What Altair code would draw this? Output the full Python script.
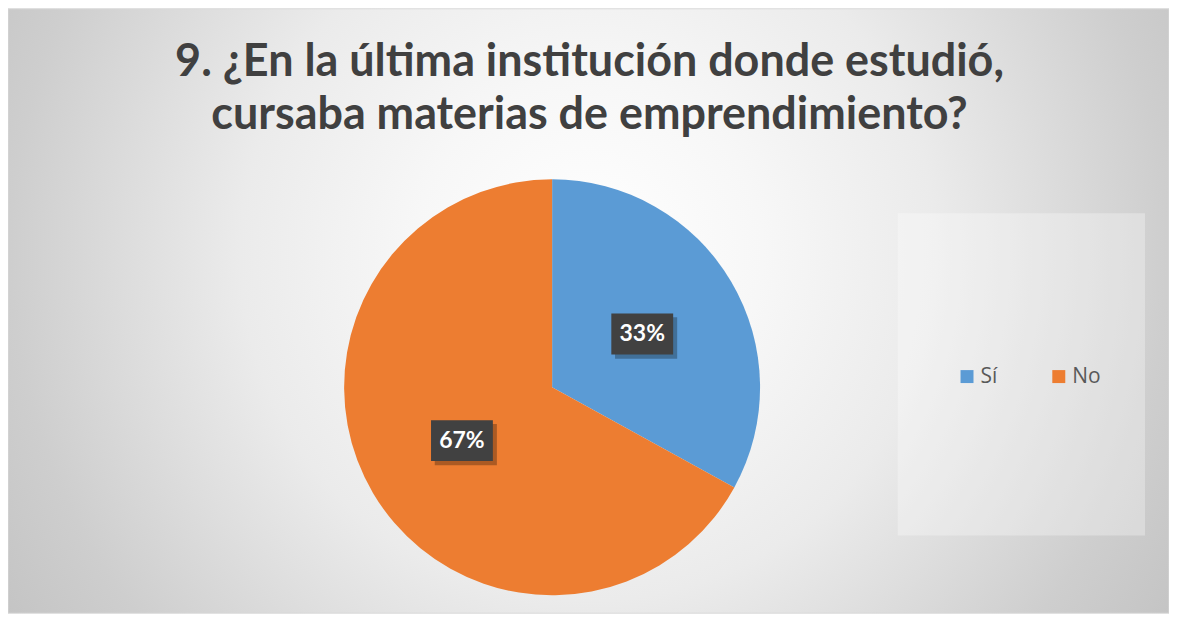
import altair as alt
import pandas as pd

# ---- data ----
categories = ["Sí", "No"]
values = [33, 67]
labels = ["33%", "67%"]
order_idx = [0, 1]
colors = ["#5B9BD5", "#ED7D31"]
title_lines = ["9. ¿En la última institución donde estudió,",
               "cursaba materias de emprendimiento?"]

df = pd.DataFrame({"cat": categories, "value": values, "label": labels, "idx": order_idx})

W, H = 1164, 606
CX, CY, R = 545.5, 379.5, 208.5
LR = 105

grad = alt.RadialGradient(
    gradient="radial",
    x1=0.5, y1=0.45, r1=0,
    x2=0.5, y2=0.45, r2=0.6,
    stops=[
        alt.GradientStop(offset=0.0, color="#ffffff"),
        alt.GradientStop(offset=0.25, color="#f7f7f7"),
        alt.GradientStop(offset=0.5, color="#ebebeb"),
        alt.GradientStop(offset=0.65, color="#dedede"),
        alt.GradientStop(offset=0.83, color="#cecece"),
        alt.GradientStop(offset=1.0, color="#c3c3c3"),
    ],
)

one = pd.DataFrame({"t": ["\n".join(title_lines)]})

background = alt.Chart(one).mark_rect(fill=grad, stroke="#d9d9d9", strokeWidth=1).encode(
    x=alt.value(0), x2=alt.value(W), y=alt.value(0), y2=alt.value(H)
)

title = alt.Chart(one).mark_text(
    lineBreak="\n", lineHeight=54, baseline="alphabetic", align="center",
    font="Lato", fontWeight="bold", fontSize=45, color="#404040"
).encode(x=alt.value(583), y=alt.value(67), text="t:N")

legend_box = alt.Chart(one).mark_rect(fill="white", opacity=0.3).encode(
    x=alt.value(892), x2=alt.value(1140), y=alt.value(205), y2=alt.value(528)
)

pie = alt.Chart(df).mark_arc(outerRadius=R).encode(
    theta=alt.Theta("value:Q", stack=True),
    order=alt.Order("idx:Q"),
    color=alt.Color(
        "cat:N",
        scale=alt.Scale(domain=categories, range=colors),
        sort=categories,
        legend=alt.Legend(
            title=None, orient="none", legendX=951, legendY=358,
            direction="horizontal", symbolType="square", symbolSize=169,
            symbolStrokeWidth=0, labelFontSize=21, labelFont="Open Sans",
            labelColor="#595959", labelOffset=3, columnPadding=51, padding=0,
        ),
    ),
    x=alt.value(CX), y=alt.value(CY),
)

pos = (
    alt.Chart(df)
    .transform_joinaggregate(total="sum(value)")
    .transform_window(cum="sum(value)", sort=[alt.SortField("idx")], frame=[None, 0])
    .transform_calculate(mid="2*PI*(datum.cum - datum.value/2)/datum.total")
    .transform_calculate(
        lx=f"{CX} + {LR}*sin(datum.mid)",
        ly=f"{CY} - {LR}*cos(datum.mid)",
    )
)
xenc = alt.X("lx:Q", scale=None, axis=None)
yenc = alt.Y("ly:Q", scale=None, axis=None)

box_path = "M-1,-0.661 L1,-0.661 L1,0.661 L-1,0.661 Z"
shadow_path = "M-0.88,-0.54 L1.13,-0.54 L1.13,0.80 L-0.88,0.80 Z"

shadow = pos.mark_point(shape=shadow_path, filled=True, size=3844, fill="#000000",
                        opacity=0.28, strokeWidth=0).encode(x=xenc, y=yenc)
box = pos.mark_point(shape=box_path, filled=True, size=3844, fill="#414141",
                     opacity=1, strokeWidth=0).encode(x=xenc, y=yenc)
text = pos.mark_text(font="Lato", fontWeight="bold", fontSize=23, color="white",
                     align="center", baseline="middle").encode(x=xenc, y=yenc, text="label:N")

chart = (
    alt.layer(background, legend_box, title, pie, shadow, box, text)
    .properties(width=W, height=H, padding=0, autosize=alt.AutoSizeParams(type="none"))
    .configure_view(stroke=None)
)

chart.save("out.html", embed_options={"renderer": "svg", "actions": False})
